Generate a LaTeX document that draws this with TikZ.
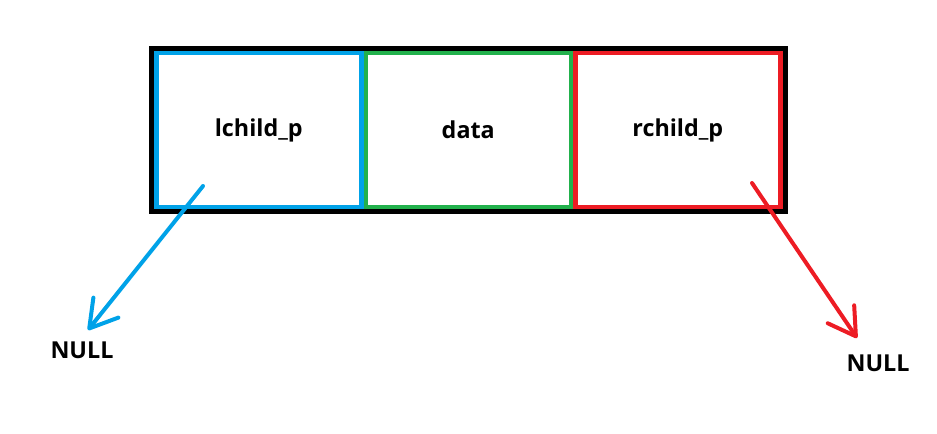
\documentclass[tikz,border=0pt]{standalone}
\usepackage{fontspec}
\setmainfont{Open Sans}
\usetikzlibrary{positioning, fit, arrows.meta}
\definecolor{paintblue}{RGB}{0,162,232}
\definecolor{paintgreen}{RGB}{34,177,76}
\definecolor{paintred}{RGB}{237,28,36}
\tikzstyle{field} = [rectangle, minimum width=153.75pt, minimum height=115.5pt, line width=3.4pt, text centered, font=\fontsize{17.5pt}{20pt}\selectfont\bfseries]
\tikzstyle{frame} = [rectangle, draw=black, line width=3.75pt, inner sep=1.9pt]
\tikzstyle{nulltext} = [font=\fontsize{17.5pt}{20pt}\selectfont\bfseries]
\tikzstyle{pointer} = [line width=3pt, line cap=round, -{Straight Barb[length=20pt, width=24pt, round]}]

\begin{document}
\begin{tikzpicture}
\useasboundingbox (0,0) rectangle (702.75pt,-324.75pt);

\node (lbox) [field, draw=paintblue] at (194.06pt,-97.5pt) {lchild\_p};
\node (dbox) [field, draw=paintgreen, right=0pt of lbox] {data};
\node (rbox) [field, draw=paintred, right=0pt of dbox] {rchild\_p};
\node (node) [frame, fit=(lbox)(rbox)] {};

\node (lnull) [nulltext] at (61.5pt,-262.5pt) {NULL};
\node (rnull) [nulltext] at (658.5pt,-272.25pt) {NULL};

\coordinate (lstart) at (152.25pt,-139.5pt);
\coordinate (ltip) at (66pt,-247.5pt);
\coordinate (rstart) at (564pt,-137.25pt);
\coordinate (rtip) at (642.75pt,-253.5pt);

\draw [pointer, paintblue] (lstart) -- (ltip);
\draw [pointer, paintred] (rstart) -- (rtip);

\end{tikzpicture}
\end{document}
